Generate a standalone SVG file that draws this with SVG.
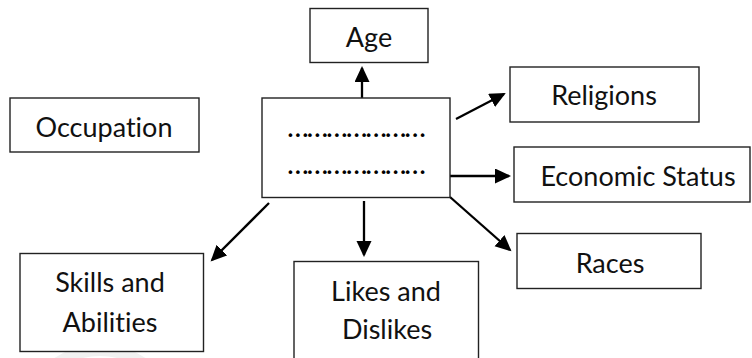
<svg xmlns="http://www.w3.org/2000/svg" width="752" height="358" viewBox="0 0 752 358">
<defs>
<marker id="ah" markerUnits="userSpaceOnUse" markerWidth="18" markerHeight="16" refX="14" refY="7.5" orient="auto">
<path d="M0,0 L16,7.5 L0,15 z" fill="#000"/>
</marker>
<style>
.box{fill:#fff;stroke:#222;stroke-width:1.4}
.lbl{font-family:Lato,"Liberation Sans",sans-serif;font-size:27px;fill:#111;text-anchor:middle;font-variant-ligatures:none}
.dots{font-family:Lato,"Liberation Sans",sans-serif;font-size:29px;fill:#000}
.con{stroke:#000;stroke-width:2.3;fill:none;marker-end:url(#ah)}
</style>
</defs>
<rect width="752" height="358" fill="#fff"/>
<circle cx="100" cy="425" r="75" fill="none" stroke="#f1f1f1" stroke-width="12"/>
<g id="connectors">
<line class="con" x1="362" y1="98" x2="362" y2="68"/>
<line class="con" x1="456" y1="119" x2="504" y2="94"/>
<line class="con" x1="450" y1="176" x2="509" y2="176"/>
<line class="con" x1="450" y1="197" x2="510" y2="250"/>
<line class="con" x1="364" y1="201" x2="364" y2="255"/>
<line class="con" x1="269" y1="203" x2="212" y2="260"/>
</g>
<g id="center">
<rect class="box" x="262" y="98" width="188" height="99.5"/>
<text class="dots" x="287" y="137" textLength="139" lengthAdjust="spacing">…………………</text>
<text class="dots" x="287" y="174" textLength="139" lengthAdjust="spacing">…………………</text>
</g>
<g id="age">
<rect class="box" x="310" y="8.5" width="118" height="54"/>
<text class="lbl" x="369" y="47">Age</text>
</g>
<g id="occupation">
<rect class="box" x="10" y="98" width="189" height="54"/>
<text class="lbl" x="104" y="137">Occupation</text>
</g>
<g id="religions">
<rect class="box" x="510" y="67" width="189" height="55"/>
<text class="lbl" x="604" y="105">Religions</text>
</g>
<g id="economic">
<rect class="box" x="514" y="147" width="236" height="55"/>
<text class="lbl" x="638" y="186">Economic Status</text>
</g>
<g id="races">
<rect class="box" x="517" y="233.5" width="184" height="55"/>
<text class="lbl" x="610" y="273">Races</text>
</g>
<g id="likes">
<rect class="box" x="294" y="261.5" width="184.5" height="110"/>
<text class="lbl" x="386" y="301">Likes and</text>
<text class="lbl" x="387" y="339">Dislikes</text>
</g>
<g id="skills">
<rect class="box" x="20" y="253.5" width="183.5" height="98"/>
<text class="lbl" x="110" y="292">Skills and</text>
<text class="lbl" x="110" y="332">Abilities</text>
</g>
</svg>
